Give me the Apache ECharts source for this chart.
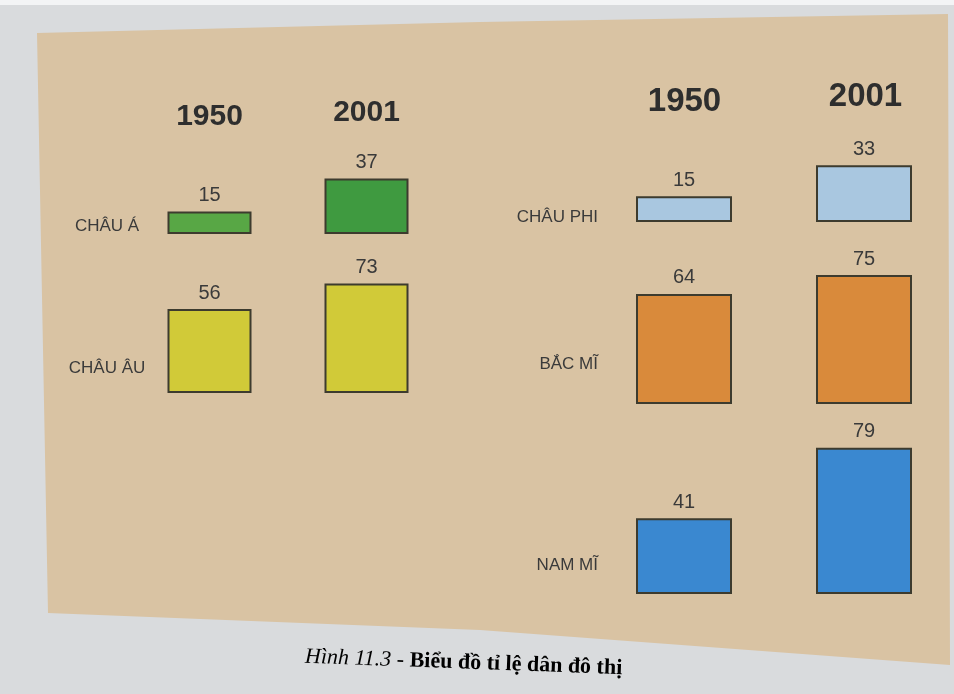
<!DOCTYPE html>
<html>
<head>
<meta charset="utf-8">
<script src="https://cdn.jsdelivr.net/npm/echarts@6/dist/echarts.min.js"></script>
<style>
  html, body { margin: 0; padding: 0; background: #d9dbdd; }
  #chart { width: 954px; height: 694px; }
</style>
</head>
<body>
<div id="chart"></div>
<script>
// data
var years = ['1950', '2001'];
var regions = ['CHÂU Á', 'CHÂU ÂU', 'CHÂU PHI', 'BẮC MĨ', 'NAM MĨ'];
var chauA = [15, 37];
var chauAu = [56, 73];
var chauPhi = [15, 33];
var bacMi = [64, 75];
var namMi = [41, 79];
var values = [chauA, chauAu, chauPhi, bacMi, namMi];
var caption = 'Hình 11.3';
var captionText = ' - Biểu đồ tỉ lệ dân đô thị';

// styles
var colors = [
  ['#58a745', '#3f9a40'],
  ['#d1ca38', '#d1ca38'],
  ['#a9c7e0', '#a9c7e0'],
  ['#d98a3b', '#d98a3b'],
  ['#3a88d0', '#3a88d0']
];
// row layout: baseline y, px per unit, side
var rows = [
  { base: 234, scale: 1.5, side: 0, label: [107, 226, 'center'] },
  { base: 393, scale: 1.5, side: 0, label: [107, 368, 'center'] },
  { base: 222, scale: 1.72, side: 1, label: [598, 217, 'right'] },
  { base: 404, scale: 1.72, side: 1, label: [598, 364, 'right'] },
  { base: 594, scale: 1.85, side: 1, label: [598, 565, 'right'] }
];
var sides = [
  { left: 131, width: 314, barWidth: 84, yearY: [117, 113], yearSize: 30 },
  { left: 594, width: 362, barWidth: 96, yearY: [102, 97], yearSize: 33 }
];

var grids = [], xAxes = [], yAxes = [], series = [], graphics = [];

graphics.push({
  type: 'polygon',
  z: -10,
  shape: { points: [[0, 0], [954, 0], [954, 5], [0, 5]] },
  style: { fill: '#f3f4f5' }
});
graphics.push({
  type: 'polygon',
  z: -9,
  shape: { points: [[37, 33], [480, 22], [948, 14], [950, 665], [480, 630], [48, 613]] },
  style: { fill: '#d9c3a3' }
});

rows.forEach(function (r, i) {
  var s = sides[r.side];
  grids.push({
    left: s.left,
    width: s.width,
    bottom: 694 - r.base,
    height: 100 * r.scale
  });
  xAxes.push({
    type: 'category',
    gridIndex: i,
    data: years,
    show: false
  });
  yAxes.push({
    type: 'value',
    gridIndex: i,
    min: 0,
    max: 100,
    show: false
  });
  series.push({
    type: 'bar',
    name: regions[i],
    xAxisIndex: i,
    yAxisIndex: i,
    barWidth: s.barWidth,
    data: values[i].map(function (v, j) {
      return { value: v, itemStyle: { color: colors[i][j] } };
    }),
    itemStyle: { borderColor: '#3d3b2e', borderWidth: 2 },
    label: {
      show: true,
      position: 'top',
      distance: 6,
      color: '#3a3a3a',
      fontFamily: 'Liberation Sans',
      fontSize: 20
    },
    silent: true
  });
  graphics.push({
    type: 'text',
    x: r.label[0],
    y: r.label[1],
    style: {
      text: regions[i],
      fill: '#3a3a3a',
      font: '17px "Liberation Sans"',
      align: r.label[2],
      verticalAlign: 'middle'
    }
  });
});

// year headers
sides.forEach(function (s) {
  years.forEach(function (y, j) {
    graphics.push({
      type: 'text',
      x: s.left + s.width * (j * 2 + 1) / 4,
      y: s.yearY[j],
      style: {
        text: y,
        fill: '#2e2e2e',
        font: 'bold ' + s.yearSize + 'px "Liberation Sans"',
        align: 'center',
        verticalAlign: 'middle'
      }
    });
  });
});

var chart = echarts.init(document.getElementById('chart'));
chart.setOption({
  backgroundColor: '#d9dbdd',
  animation: false,
  grid: grids,
  xAxis: xAxes,
  yAxis: yAxes,
  series: series,
  graphic: graphics.concat([{
    type: 'text',
    x: 305,
    y: 657,
    rotation: -0.036,
    style: {
      text: '{i|' + caption + '}{n|' + captionText + '}',
      verticalAlign: 'middle',
      rich: {
        i: { fontFamily: 'Liberation Serif', fontStyle: 'italic', fontSize: 22, color: '#444' },
        n: { fontFamily: 'Liberation Serif', fontWeight: 'bold', fontSize: 22, color: '#333' }
      }
    }
  }])
});
</script>
</body>
</html>
